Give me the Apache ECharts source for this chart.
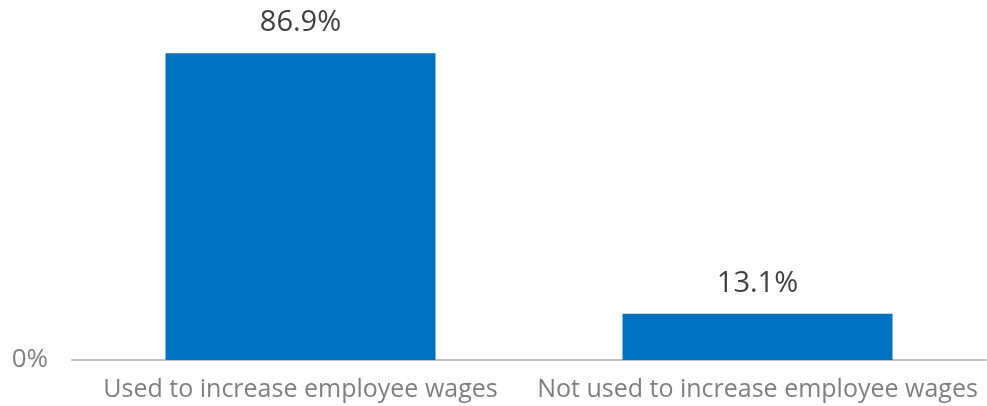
<!DOCTYPE html>
<html>
<head>
<meta charset="utf-8">
<script src="https://cdn.jsdelivr.net/npm/echarts@6/dist/echarts.min.js"></script>
<style>
  html, body { margin: 0; padding: 0; background: #fff; }
  #chart { width: 987px; height: 406px; }
</style>
</head>
<body>
<div id="chart"></div>
<script>
// Share of funds by use
const categories = ['Used to increase employee wages', 'Not used to increase employee wages'];
const shares = [86.9, 13.1];

const chart = echarts.init(document.getElementById('chart'), null, { renderer: 'canvas' });
const font = '"Open Sans", "Noto Sans", sans-serif';

chart.setOption({
  animation: false,
  grid: { left: 72, right: 1, top: 7, bottom: 46, containLabel: false },
  xAxis: {
    type: 'category',
    data: categories,
    axisLine: { show: true, lineStyle: { color: '#BFBFBF', width: 2 } },
    axisTick: { show: false },
    axisLabel: { color: '#7F7F7F', fontSize: 25, fontFamily: font, margin: 17, interval: 0 }
  },
  yAxis: {
    type: 'value',
    min: 0,
    max: 100,
    interval: 100,
    axisLine: { show: false },
    axisTick: { show: false },
    splitLine: { show: false },
    axisLabel: {
      color: '#7F7F7F', fontSize: 26, fontFamily: font, margin: 24,
      formatter: v => (v === 0 ? '0%' : '')
    }
  },
  series: [{
    type: 'bar',
    data: shares,
    barWidth: 270,
    itemStyle: { color: '#0070C0' },
    label: {
      show: true,
      position: 'top',
      distance: 16,
      color: '#404040',
      fontSize: 29,
      fontFamily: font,
      formatter: p => p.value.toFixed(1) + '%'
    }
  }]
});
</script>
</body>
</html>
